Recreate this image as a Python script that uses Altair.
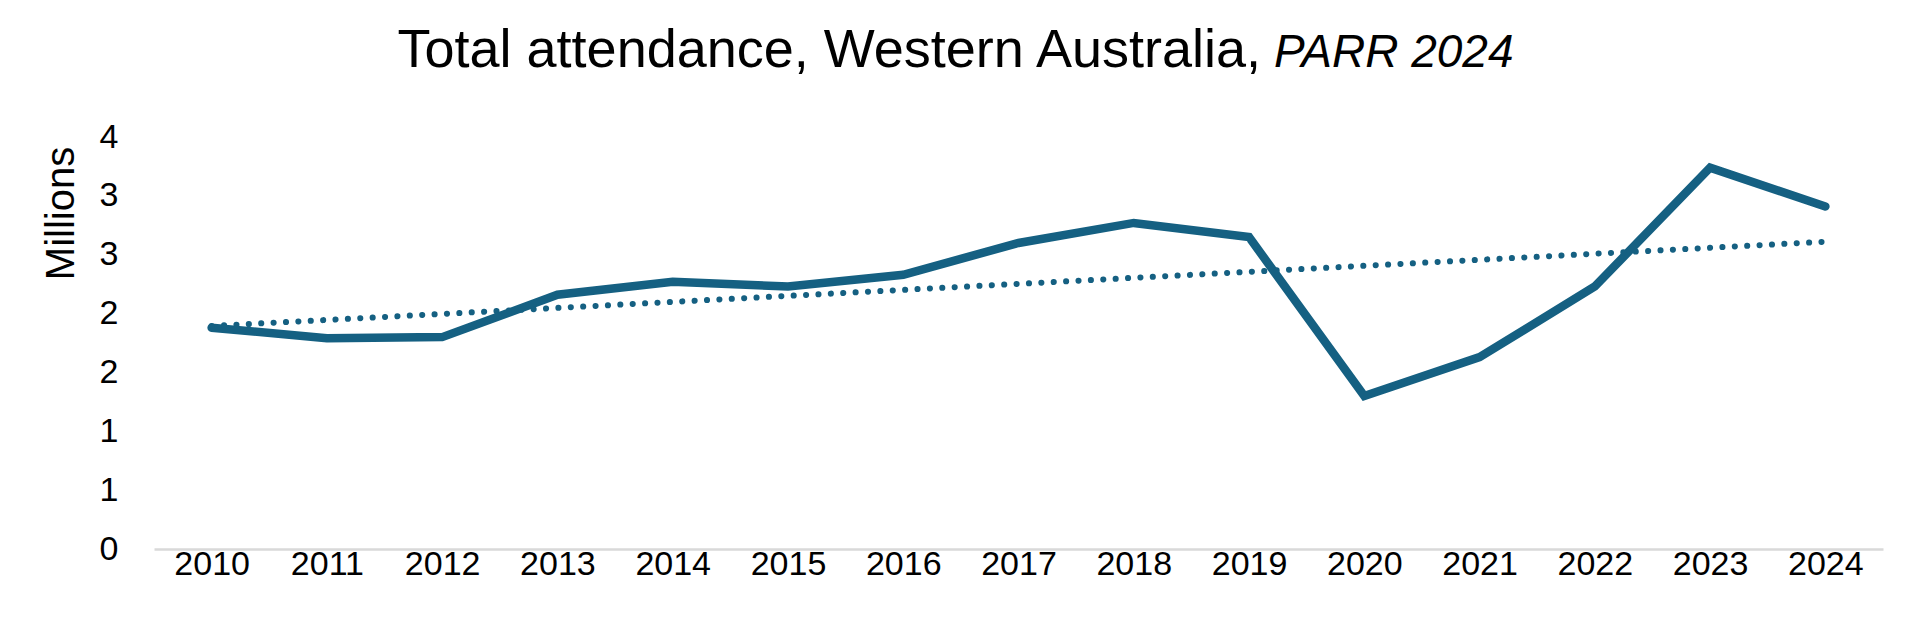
import altair as alt
import pandas as pd

# Total attendance in Western Australia (millions), 2010-2024
years = list(range(2010, 2025))
attendance_millions = [1.88, 1.79, 1.80, 2.16, 2.27, 2.23, 2.33, 2.60,
                       2.77, 2.65, 1.30, 1.63, 2.23, 3.24, 2.91]
y_ticks = [0, 0.5, 1, 1.5, 2, 2.5, 3, 3.5]
title_main = "Total attendance, Western Australia,"
title_italic = "PARR 2024"

df = pd.DataFrame({"year": years, "attendance": attendance_millions})

COLOR = "#156082"
FONT = "Liberation Sans"
W, H = 1729, 412
LEFT, TOP = 154, 137

x = alt.X(
    "year:Q",
    scale=alt.Scale(domain=[2009.5, 2024.5], nice=False, zero=False),
    axis=alt.Axis(values=years, format="d", title=None, ticks=False, grid=False,
                  domainColor="#d9d9d9", domainWidth=2.5,
                  labelFont=FONT, labelFontSize=34, labelColor="black",
                  labelPadding=-2),
)
y = alt.Y(
    "attendance:Q",
    scale=alt.Scale(domain=[0, 3.5], nice=False),
    axis=alt.Axis(values=y_ticks, format=".0f", title="Millions", grid=False,
                  domain=False, ticks=False,
                  labelFont=FONT, labelFontSize=34, labelColor="black",
                  labelPadding=36,
                  titleFont=FONT, titleFontSize=40, titleFontWeight="normal",
                  titleColor="black", titleAngle=-90,
                  titleX=61 - LEFT, titleY=213 - TOP,
                  titleAlign="center", titleBaseline="middle"),
)

base = alt.Chart(df).encode(x=x, y=y)

series = base.mark_line(color=COLOR, strokeWidth=8.5, strokeCap="round")

trend = (
    alt.Chart(df)
    .transform_regression("year", "attendance", method="linear")
    .mark_line(color=COLOR, strokeWidth=6, strokeCap="round",
               strokeDash=[0.1, 12.3])
    .encode(x="year:Q", y="attendance:Q")
)

title_df = pd.DataFrame({"main": [title_main], "ital": [title_italic]})
title_a = alt.Chart(title_df).mark_text(
    font=FONT, fontSize=54, color="black", align="right", baseline="alphabetic"
).encode(text="main:N", x=alt.value(1261 - LEFT), y=alt.value(67 - TOP))
title_b = alt.Chart(title_df).mark_text(
    font=FONT, fontSize=46, color="black",
    fontStyle="italic", align="left", baseline="alphabetic"
).encode(text="ital:N", x=alt.value(1274 - LEFT), y=alt.value(67 - TOP))

chart = (
    alt.layer(series, trend, title_a, title_b)
    .properties(
        width=W, height=H,
        autosize=alt.AutoSizeParams(type="none"),
        padding={"left": LEFT, "top": TOP, "right": 1917 - LEFT - W, "bottom": 640 - TOP - H},
        background="white",
    )
    .configure_view(stroke=None)
)

chart.save("out.html", embed_options={"renderer": "svg", "actions": False})
